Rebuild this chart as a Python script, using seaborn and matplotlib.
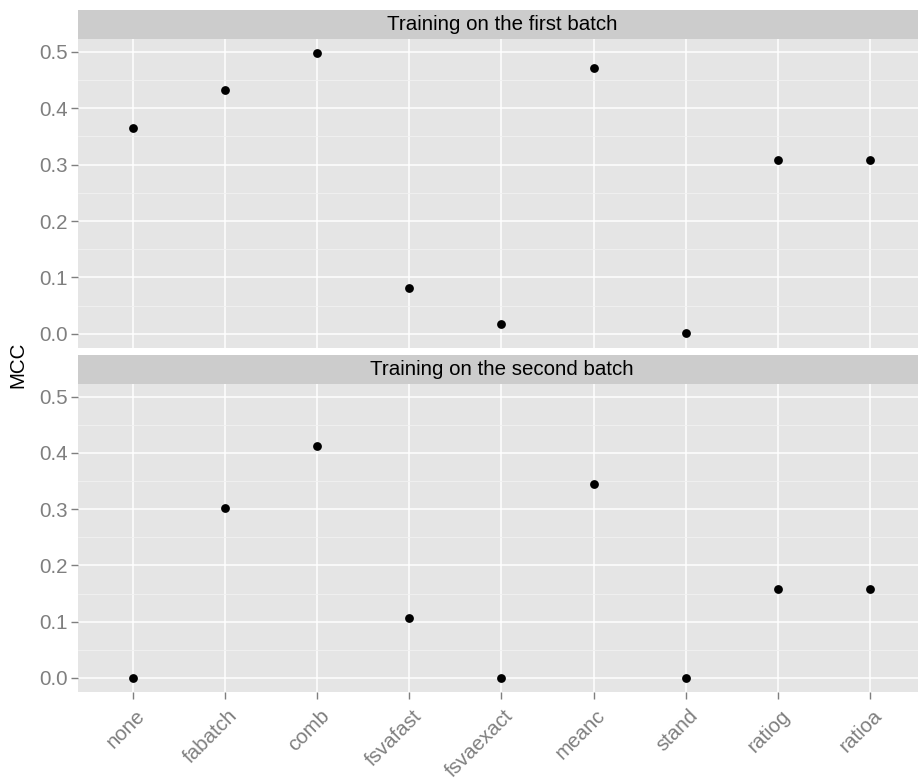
import matplotlib
matplotlib.use("Agg")
import matplotlib.pyplot as plt
import matplotlib.transforms as mtransforms
from matplotlib.ticker import MultipleLocator
import seaborn as sns
import pandas as pd

methods = ["none", "fabatch", "comb", "fsvafast", "fsvaexact",
           "meanc", "stand", "ratiog", "ratioa"]
mcc_first = [0.365, 0.432, 0.498, 0.081, 0.017, 0.471, 0.001, 0.308, 0.308]
mcc_second = [0.0, 0.303, 0.413, 0.106, 0.0, 0.344, 0.0, 0.159, 0.159]
panel_titles = ["Training on the first batch", "Training on the second batch"]

df = pd.concat([
    pd.DataFrame({"method": methods, "MCC": mcc_first, "panel": panel_titles[0]}),
    pd.DataFrame({"method": methods, "MCC": mcc_second, "panel": panel_titles[1]}),
])
df["pos"] = df["method"].map({m: i for i, m in enumerate(methods)})

sns.set_style("white")
plt.rcParams["font.family"] = ["Liberation Sans", "DejaVu Sans"]

W, H = 918, 780
fig = plt.figure(figsize=(W / 100, H / 100), dpi=100)

# panel / strip boxes in pixels: (top, bottom)
panels = [(39, 348), (384, 692)]
strips = [(10, 39), (355, 384)]
left, right = 78, 918
fs = 14.8

grey = "#7F7F7F"
for i, title in enumerate(panel_titles):
    top, bot = panels[i]
    ax = fig.add_axes([left / W, 1 - bot / H, (right - left) / W, (bot - top) / H])
    ax.set_facecolor("#E5E5E5")
    sub = df[df["panel"] == title]
    sns.scatterplot(data=sub, x="pos", y="MCC", ax=ax, color="black",
                    s=40, edgecolor="black", linewidth=0, zorder=3)
    ax.set_xlim(-0.597, 8.523)
    ax.set_ylim(-0.0249, 0.5225)
    ax.yaxis.set_minor_locator(MultipleLocator(0.05))
    ax.set_xticks(range(len(methods)))
    ax.grid(which="major", color="white", linewidth=1.1)
    ax.grid(which="minor", axis="y", color="#F2F2F2", linewidth=0.6)
    ax.set_axisbelow(True)
    for sp in ax.spines.values():
        sp.set_visible(False)
    ax.set_ylabel("")
    ax.set_xlabel("")
    ax.tick_params(axis="both", which="major", length=5, width=1, color=grey,
                   labelcolor=grey, labelsize=fs, left=True, bottom=True, pad=2.5)
    ax.tick_params(axis="y", which="minor", length=0)
    ax.set_yticks([0, 0.1, 0.2, 0.3, 0.4, 0.5])
    ax.set_yticklabels(["0.0", "0.1", "0.2", "0.3", "0.4", "0.5"])
    if i == 0:
        ax.tick_params(axis="x", labelbottom=False, length=0)
    else:
        ax.set_xticklabels(methods, rotation=45, ha="right", va="center",
                           rotation_mode="anchor")
        ax.tick_params(axis="x", pad=8)
        shift = mtransforms.ScaledTranslation(0.09, -0.03, fig.dpi_scale_trans)
        for lbl in ax.get_xticklabels():
            lbl.set_transform(lbl.get_transform() + shift)

    st, sb = strips[i]
    sax = fig.add_axes([left / W, 1 - sb / H, (right - left) / W, (sb - st) / H])
    sax.set_facecolor("#CCCCCC")
    sax.set_xticks([])
    sax.set_yticks([])
    for sp in sax.spines.values():
        sp.set_visible(False)
    # centre of strip matches centre of the full (unclipped) panel
    sax.text((502 - left) / (right - left), 0.5, title, ha="center", va="center",
             fontsize=fs, color="black", transform=sax.transAxes)

fig.text(18 / W, 1 - 365 / H, "MCC", rotation=90, ha="center", va="center",
         fontsize=fs, color="black")

fig.savefig("out.png", dpi=100)
